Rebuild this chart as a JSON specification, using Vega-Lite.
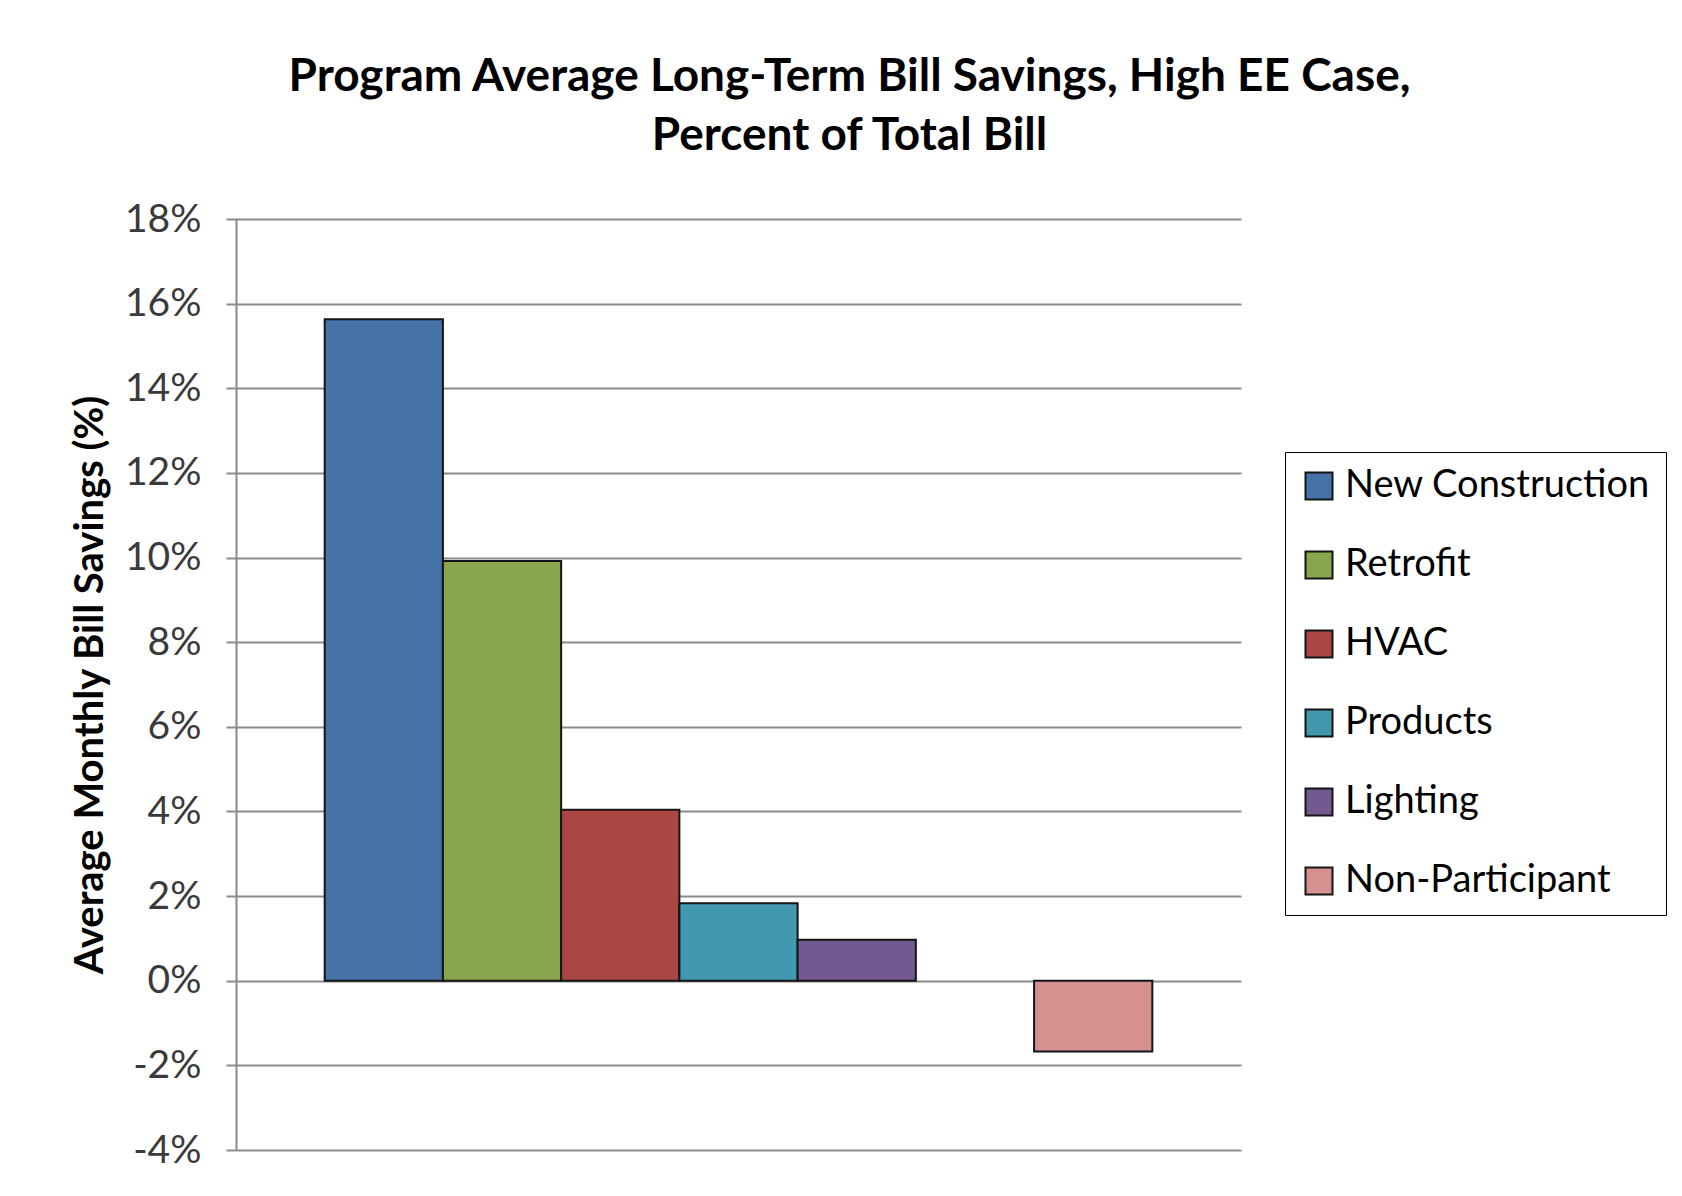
{
  "$schema": "https://vega.github.io/schema/vega-lite/v6.json",
  "autosize": {"type": "none"},
  "padding": {"left": 236, "top": 219, "right": 441, "bottom": 46},
  "width": 1005,
  "height": 931,
  "background": "white",
  "title": {
    "text": ["Program Average Long-Term Bill Savings, High EE Case,", "Percent of Total Bill"],
    "anchor": "middle",
    "frame": "group",
    "dx": 111,
    "offset": 40,
    "font": "Lato",
    "fontSize": 46,
    "fontWeight": "bold",
    "lineHeight": 59,
    "color": "#000000"
  },
  "data": {
    "values": [
      {"program": "New Construction", "savings": 0.1563},
      {"program": "Retrofit", "savings": 0.0992},
      {"program": "HVAC", "savings": 0.0404},
      {"program": "Products", "savings": 0.0183},
      {"program": "Lighting", "savings": 0.0097},
      {"program": "Non-Participant", "savings": -0.0167}
    ]
  },
  "mark": {"type": "bar", "stroke": "#151515", "strokeWidth": 2},
  "encoding": {
    "x": {
      "field": "program",
      "type": "nominal",
      "scale": {
        "domain": ["New Construction", "Retrofit", "HVAC", "Products", "Lighting", "", "Non-Participant"],
        "paddingInner": 0,
        "paddingOuter": 0.75
      },
      "axis": null
    },
    "y": {
      "field": "savings",
      "type": "quantitative",
      "scale": {"domain": [-0.04, 0.18], "nice": false, "zero": false},
      "axis": {
        "title": "Average Monthly Bill Savings (%)",
        "values": [-0.04, -0.02, 0, 0.02, 0.04, 0.06, 0.08, 0.1, 0.12, 0.14, 0.16, 0.18],
        "format": ".0%",
        "labelExpr": "replace(datum.label, '\u2212', '-')",
        "grid": true,
        "gridColor": "#8a8a8a",
        "gridWidth": 2,
        "gridOpacity": 1,
        "domain": true,
        "domainColor": "#8a8a8a",
        "domainWidth": 2,
        "ticks": true,
        "tickSize": 10,
        "tickColor": "#8a8a8a",
        "tickWidth": 2,
        "labelFont": "Lato",
        "labelFontSize": 39,
        "labelColor": "#3a3a3a",
        "labelPadding": 25,
        "titleFont": "Lato",
        "titleFontSize": 40,
        "titleFontWeight": "bold",
        "titleColor": "#000000",
        "titlePadding": 14
      }
    },
    "color": {
      "field": "program",
      "type": "nominal",
      "scale": {
        "domain": ["New Construction", "Retrofit", "HVAC", "Products", "Lighting", "Non-Participant"],
        "range": ["#4572A7", "#89A54E", "#AA4643", "#4198AF", "#71588F", "#D4918F"]
      },
      "legend": {
        "title": null,
        "orient": "none",
        "legendX": 1049,
        "legendY": 233,
        "direction": "vertical",
        "padding": 15,
        "rowPadding": 41,
        "strokeColor": "#000000",
        "fillColor": "white",
        "symbolType": "square",
        "symbolSize": 729,
        "symbolStrokeColor": "#151515",
        "symbolStrokeWidth": 2,
        "symbolOpacity": 1,
        "labelFont": "Lato",
        "labelFontSize": 38,
        "labelColor": "#000000",
        "labelOffset": 7,
        "labelLimit": 400
      }
    }
  },
  "config": {"view": {"stroke": null}}
}
